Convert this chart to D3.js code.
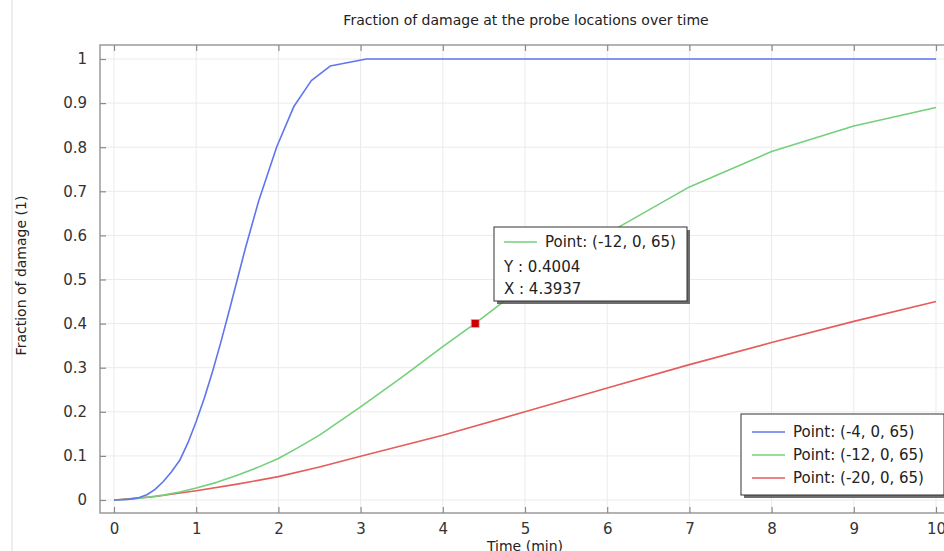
<!DOCTYPE html>
<html>
<head>
<meta charset="utf-8">
<script src="https://cdn.jsdelivr.net/npm/d3@7"></script>
<style>
  html, body { margin: 0; padding: 0; background: #fff; }
  svg { display: block; font-family: "DejaVu Sans", sans-serif; }
</style>
</head>
<body>
<svg id="chart" width="944" height="551"></svg>
<script>
// ---- data ----
const title = "Fraction of damage at the probe locations over time";
const xLabel = "Time (min)";
const yLabel = "Fraction of damage (1)";
const xTicks = [0, 1, 2, 3, 4, 5, 6, 7, 8, 9, 10];
const yTicks = [0, 0.1, 0.2, 0.3, 0.4, 0.5, 0.6, 0.7, 0.8, 0.9, 1];

const seriesNames = ["Point: (-4, 0, 65)", "Point: (-12, 0, 65)", "Point: (-20, 0, 65)"];

const timeBlue = [0, 0.1, 0.2, 0.3, 0.4, 0.5, 0.6, 0.7, 0.8, 0.9, 1.0, 1.1, 1.2, 1.3, 1.4, 1.5, 1.6, 1.76, 1.98, 2.19, 2.4, 2.63, 3.07, 4, 5, 6, 7, 8, 9, 10];
const valBlue  = [0, 0.0005, 0.002, 0.005, 0.012, 0.024, 0.042, 0.064, 0.09, 0.13, 0.178, 0.232, 0.292, 0.358, 0.428, 0.50, 0.572, 0.678, 0.801, 0.893, 0.951, 0.984, 1.0, 1.0, 1.0, 1.0, 1.0, 1.0, 1.0, 1.0];

const timeGreen = [0, 0.2, 0.4, 0.6, 0.8, 1.0, 1.25, 1.5, 1.75, 2.0, 2.25, 2.5, 3.0, 3.5, 4.0, 4.3937, 5, 6, 7, 8, 9, 10];
const valGreen  = [0, 0.002, 0.006, 0.011, 0.018, 0.027, 0.04, 0.056, 0.074, 0.094, 0.12, 0.147, 0.211, 0.278, 0.348, 0.4004, 0.487, 0.604, 0.71, 0.79, 0.848, 0.89];

const timeRed = [0, 0.5, 1, 1.5, 2, 2.5, 3, 4, 5, 6, 7, 8, 9, 10];
const valRed  = [0, 0.008, 0.021, 0.036, 0.053, 0.075, 0.099, 0.147, 0.2, 0.254, 0.307, 0.357, 0.405, 0.45];

const probe = { series: 1, x: 4.3937, y: 0.4004 };

const colors = ["#5f75ee", "#74d07a", "#e65c5c"];

// ---- layout ----
const svg = d3.select("#chart");
const frame = { left: 100, top: 45, right: 952, bottom: 513 };
const x = d3.scaleLinear().domain([0, 10]).range([114, 936]);
const y = d3.scaleLinear().domain([0, 1]).range([500, 59]);

// left panel border
svg.append("line").attr("x1", 12).attr("x2", 12).attr("y1", 0).attr("y2", 551)
  .attr("stroke", "#dcdcdc").attr("stroke-width", 1);

// title
svg.append("text").attr("x", 526).attr("y", 25).attr("text-anchor", "middle")
  .attr("font-size", 14).attr("fill", "#222").text(title);

// grid
const g = svg.append("g");
g.selectAll(".gx").data(xTicks).join("line")
  .attr("x1", d => x(d)).attr("x2", d => x(d))
  .attr("y1", frame.top).attr("y2", frame.bottom)
  .attr("stroke", "#ebebeb").attr("stroke-width", 1);
g.selectAll(".gy").data(yTicks).join("line")
  .attr("x1", frame.left).attr("x2", frame.right)
  .attr("y1", d => y(d)).attr("y2", d => y(d))
  .attr("stroke", "#ebebeb").attr("stroke-width", 1);

// frame
svg.append("rect").attr("x", frame.left).attr("y", frame.top)
  .attr("width", frame.right - frame.left).attr("height", frame.bottom - frame.top)
  .attr("fill", "none").attr("stroke", "#9a9a9a").attr("stroke-width", 1.5);

// axes (inward ticks)
const axB = d3.axisBottom(x).tickValues(xTicks).tickSize(-6).tickFormat(d3.format("d")).tickPadding(10);
const axT = d3.axisTop(x).tickValues(xTicks).tickSize(-6).tickFormat("");
const axL = d3.axisLeft(y).tickValues(yTicks).tickSize(-6).tickFormat(d => d === 0 ? "0" : d === 1 ? "1" : d3.format(".1f")(d)).tickPadding(13);

function styleAxis(sel) {
  sel.select(".domain").remove();
  sel.selectAll(".tick line").attr("stroke", "#8a8a8a").attr("stroke-width", 1.2);
  sel.selectAll(".tick text").attr("fill", "#333").attr("font-size", 15)
     .attr("font-family", "DejaVu Sans, sans-serif");
}
svg.append("g").attr("transform", `translate(0,${frame.bottom})`).call(axB).call(styleAxis);
svg.append("g").attr("transform", `translate(0,${frame.top})`).call(axT).call(styleAxis);
svg.append("g").attr("transform", `translate(${frame.left},0)`).call(axL).call(styleAxis);

// axis titles
svg.append("text").attr("x", x(5)).attr("y", 551).attr("text-anchor", "middle")
  .attr("font-size", 14).attr("fill", "#222").text(xLabel);
svg.append("text").attr("transform", `translate(26,${y(0.5) - 4}) rotate(-90)`)
  .attr("text-anchor", "middle").attr("font-size", 14).attr("fill", "#222").text(yLabel);

// lines
const series = [
  timeBlue.map((t, i) => [t, valBlue[i]]),
  timeGreen.map((t, i) => [t, valGreen[i]]),
  timeRed.map((t, i) => [t, valRed[i]])
];
const line = d3.line().x(d => x(d[0])).y(d => y(d[1]));
svg.append("clipPath").attr("id", "clip").append("rect")
  .attr("x", frame.left).attr("y", frame.top)
  .attr("width", frame.right - frame.left).attr("height", frame.bottom - frame.top);
const lg = svg.append("g").attr("clip-path", "url(#clip)");
[2, 1, 0].forEach(i => {
  lg.append("path").datum(series[i]).attr("d", line)
    .attr("fill", "none").attr("stroke", colors[i]).attr("stroke-width", 1.6)
    .attr("stroke-linejoin", "round");
});

// probe marker
svg.append("rect").attr("x", x(probe.x) - 4).attr("y", y(probe.y) - 4)
  .attr("width", 8).attr("height", 8).attr("fill", "#cc0000")
  .attr("stroke", "#f0a0a0").attr("stroke-width", 0.8);

// boxes with shadow
function box(x0, y0, w, h) {
  svg.append("rect").attr("x", x0 + 3).attr("y", y0 + 3).attr("width", w).attr("height", h)
    .attr("fill", "#555").attr("opacity", 0.85);
  svg.append("rect").attr("x", x0).attr("y", y0).attr("width", w).attr("height", h)
    .attr("fill", "#fff").attr("stroke", "#333").attr("stroke-width", 1);
}

// tooltip
box(494, 227, 193, 74);
svg.append("line").attr("x1", 504).attr("x2", 537).attr("y1", 242).attr("y2", 242)
  .attr("stroke", colors[probe.series]).attr("stroke-width", 1.6);
const tt = svg.append("g").attr("font-size", 15).attr("fill", "#222");
tt.append("text").attr("x", 545).attr("y", 247).text(seriesNames[probe.series]);
tt.append("text").attr("x", 504).attr("y", 272).text("Y : " + probe.y.toFixed(4));
tt.append("text").attr("x", 504).attr("y", 294).text("X : " + probe.x.toFixed(4));

// legend
box(741, 414, 203, 81);
seriesNames.forEach((name, i) => {
  const yy = 432 + i * 23;
  svg.append("line").attr("x1", 752).attr("x2", 785).attr("y1", yy).attr("y2", yy)
    .attr("stroke", colors[i]).attr("stroke-width", 1.6);
  svg.append("text").attr("x", 793).attr("y", yy + 5).attr("font-size", 15)
    .attr("fill", "#222").text(name);
});
</script>
</body>
</html>
